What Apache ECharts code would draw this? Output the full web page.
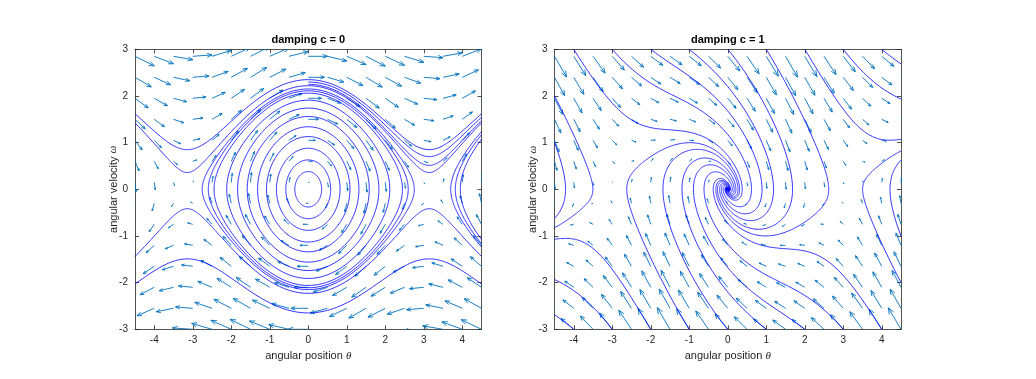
<!DOCTYPE html>
<html><head><meta charset="utf-8">
<script src="https://cdn.jsdelivr.net/npm/echarts@6/dist/echarts.min.js"></script>
<style>html,body{margin:0;padding:0;background:#fff}#c{width:1036px;height:379px}</style>
</head><body><div id="c"></div>
<script>
// ---------------- data ----------------
const titles = ['damping c = 0', 'damping c = 1'];
const dampingValues = [0, 1];
const gravityOverLength = 1.2;          // pendulum constant g/L
const xTicks = [-4, -3, -2, -1, 0, 1, 2, 3, 4];
const yTicks = [-3, -2, -1, 0, 1, 2, 3];
const thetaGrid = [-4.5, -4, -3.5, -3, -2.5, -2, -1.5, -1, -0.5, 0, 0.5, 1, 1.5, 2, 2.5, 3, 3.5, 4, 4.5];
const omegaGrid = [-3, -2.55, -2.1, -1.65, -1.2, -0.75, -0.3, 0.15, 0.6, 1.05, 1.5, 1.95, 2.4, 2.85];

// c = 0 : closed orbits (omega where they cross theta = 0)
const ringOmega0 = [0.38, 0.63, 0.88, 1.13, 1.34, 1.56, 1.74, 1.91, 2.06, 2.11, 2.15];
// c = 0 : rotating orbits through theta = 0, drawn to both edges
const openOmega0 = [2.22, 2.35, -2.23, -2.65];
// c = 0 : rotating orbits leaving theta = 0 to the right only
const rightOmega0 = [2.25, 2.3];
// c = 0 : orbits around theta = 2*pi seen at the right edge (theta where omega = 0)
const edgeLoopTheta = [3.7, 3.82, 3.95];

// c = 1 : start points of the streamlines
const seedTheta1 = [-4, -3, -2, -1, 0, 1, 2, 3, 4, -4, -3, -2, -1, 0, 1, 2, 3, 4, -4.5, -4.5, 4.5, 4.5];
const seedOmega1 = [3, 3, 3, 3, 3, 3, 3, 3, 3, -3, -3, -3, -3, -3, -3, -3, -3, -3, 1, 2, -1, -2];

// ---------------- integration helpers ----------------
const XMIN = -4.5, XMAX = 4.5, YMIN = -3, YMAX = 3;
function deriv(c, s) { return [s[1], -gravityOverLength * Math.sin(s[0]) - c * s[1]]; }
function rk4(c, s, h) {
  const k1 = deriv(c, s);
  const k2 = deriv(c, [s[0] + h / 2 * k1[0], s[1] + h / 2 * k1[1]]);
  const k3 = deriv(c, [s[0] + h / 2 * k2[0], s[1] + h / 2 * k2[1]]);
  const k4 = deriv(c, [s[0] + h * k3[0], s[1] + h * k3[1]]);
  return [s[0] + h / 6 * (k1[0] + 2 * k2[0] + 2 * k3[0] + k4[0]),
          s[1] + h / 6 * (k1[1] + 2 * k2[1] + 2 * k3[1] + k4[1])];
}
function inside(p) { return p[0] >= XMIN && p[0] <= XMAX && p[1] >= YMIN && p[1] <= YMAX; }
function edgePoint(a, b) {
  let t = 1;
  if (b[0] > XMAX) t = Math.min(t, (XMAX - a[0]) / (b[0] - a[0]));
  if (b[0] < XMIN) t = Math.min(t, (XMIN - a[0]) / (b[0] - a[0]));
  if (b[1] > YMAX) t = Math.min(t, (YMAX - a[1]) / (b[1] - a[1]));
  if (b[1] < YMIN) t = Math.min(t, (YMIN - a[1]) / (b[1] - a[1]));
  return [a[0] + t * (b[0] - a[0]), a[1] + t * (b[1] - a[1])];
}
function trace(c, start, dir, closed) {
  const h = 0.01 * dir;
  let s = start.slice();
  const pts = [s];
  for (let i = 0; i < 40000; i++) {
    const n = rk4(c, s, h);
    if (!inside(n)) { pts.push(edgePoint(s, n)); break; }
    if (closed && i > 20 && s[0] < 0 && n[0] >= 0 && n[1] > 0) { pts.push(start); break; }
    if (c > 0 && Math.hypot(n[0], n[1]) < 0.004) { pts.push(n); break; }
    if (i % 3 === 0) pts.push(n);
    s = n;
  }
  return pts;
}
function both(c, start) {
  const f = trace(c, start, 1, false), b = trace(c, start, -1, false);
  return b.reverse().concat(f.slice(1));
}

// ---------------- streamlines ----------------
const lines0 = [];
ringOmega0.forEach(w => lines0.push(trace(0, [0, w], 1, true)));
openOmega0.forEach(w => lines0.push(both(0, [0, w])));
rightOmega0.forEach(w => lines0.push(trace(0, [0, w], 1, false)));
edgeLoopTheta.forEach(t => lines0.push(both(0, [t, 0])));

const lines1 = [];
seedTheta1.forEach((t, i) => lines1.push(trace(1, [t, seedOmega1[i]], 1, false)));

// ---------------- quiver (MATLAB style autoscale) ----------------
function quiverData(c) {
  const raw = [];
  omegaGrid.forEach(w => thetaGrid.forEach(t => { const d = deriv(c, [t, w]); raw.push([t, w, d[0], d[1]]); }));
  const delx = (XMAX - XMIN) / thetaGrid.length;
  const dely = (omegaGrid[omegaGrid.length - 1] - omegaGrid[0]) / omegaGrid.length;
  const del = delx * delx + dely * dely;
  let maxlen = 0;
  raw.forEach(r => { maxlen = Math.max(maxlen, Math.sqrt((r[2] * r[2] + r[3] * r[3]) / del)); });
  const sc = 0.9 / maxlen;
  return raw.map(r => [r[0], r[1], r[2] * sc, r[3] * sc]);
}
const QCOLOR = '#0072BD';
function arrowItem(params, api) {
  const x = api.value(0), y = api.value(1), u = api.value(2), v = api.value(3);
  const p0 = api.coord([x, y]), p1 = api.coord([x + u, y + v]);
  const dx = p1[0] - p0[0], dy = p1[1] - p0[1];
  const L = Math.hypot(dx, dy);
  const st = { stroke: QCOLOR, lineWidth: 0.9, fill: null };
  if (L < 0.3) return { type: 'group', children: [] };
  const ux = dx / L, uy = dy / L;
  const hl = 0.25 * L, hw = 0.1 * L;
  const bx = p1[0] - ux * hl, by = p1[1] - uy * hl;
  return {
    type: 'group', children: [
      { type: 'line', shape: { x1: p0[0], y1: p0[1], x2: p1[0], y2: p1[1] }, style: st },
      { type: 'polyline', shape: { points: [[bx - uy * hw, by + ux * hw], p1, [bx + uy * hw, by - ux * hw]] }, style: st }
    ]
  };
}

// ---------------- chart ----------------
const FONT = '"Liberation Sans", Arial, Helvetica, sans-serif';
const AX = '#262626';
const grids = [
  { left: 135, top: 49.3, width: 346.5, height: 280 },
  { left: 554.5, top: 49.3, width: 346.5, height: 280 }
];
const xAxes = [], yAxes = [], series = [], titleArr = [];
grids.forEach((g, gi) => {
  const tick = { inside: true, length: 4, lineStyle: { color: AX, width: 0.8 } };
  const line = { onZero: false, lineStyle: { color: AX, width: 0.8 } };
  xAxes.push({
    gridIndex: gi, type: 'value', min: XMIN, max: XMAX, position: 'bottom',
    axisLine: line, axisTick: Object.assign({ customValues: xTicks }, tick),
    axisLabel: { customValues: xTicks, color: AX, fontSize: 10, fontFamily: FONT, margin: 6 },
    splitLine: { show: false },
    name: 'angular position {i|θ}', nameLocation: 'middle', nameGap: 21, nameMoveOverlap: false,
    nameTextStyle: { color: AX, fontSize: 11, fontFamily: FONT,
      rich: { i: { fontStyle: 'italic', fontFamily: '"Liberation Serif", serif', fontSize: 11, color: AX } } }
  });
  xAxes.push({
    gridIndex: gi, type: 'value', min: XMIN, max: XMAX, position: 'top',
    axisLine: line, axisTick: Object.assign({ customValues: xTicks }, tick),
    axisLabel: { show: false, customValues: xTicks }, splitLine: { show: false }
  });
  yAxes.push({
    gridIndex: gi, type: 'value', min: YMIN, max: YMAX, interval: 1, position: 'left',
    axisLine: line, axisTick: tick,
    axisLabel: { color: AX, fontSize: 10, fontFamily: FONT, margin: 7 },
    splitLine: { show: false },
    name: 'angular velocity {i|ω}', nameLocation: 'middle', nameGap: 16, nameMoveOverlap: false,
    nameTextStyle: { color: AX, fontSize: 11, fontFamily: FONT,
      rich: { i: { fontStyle: 'italic', fontFamily: '"Liberation Serif", serif', fontSize: 11, color: AX } } }
  });
  yAxes.push({
    gridIndex: gi, type: 'value', min: YMIN, max: YMAX, interval: 1, position: 'right',
    axisLine: line, axisTick: tick, axisLabel: { show: false }, splitLine: { show: false }
  });
  titleArr.push({
    text: titles[gi], left: g.left + g.width / 2, top: 34, textAlign: 'center', padding: 0,
    textStyle: { fontSize: 11, fontWeight: 'bold', color: '#000', fontFamily: FONT }
  });
  const c = dampingValues[gi];
  series.push({
    type: 'custom', xAxisIndex: gi * 2, yAxisIndex: gi * 2, clip: true,
    renderItem: arrowItem, data: quiverData(c), silent: true, animation: false
  });
  const L = gi === 0 ? lines0 : lines1;
  series.push({
    type: 'lines', coordinateSystem: 'cartesian2d', xAxisIndex: gi * 2, yAxisIndex: gi * 2,
    polyline: true, silent: true, animation: false, clip: true,
    lineStyle: { color: '#0000FF', width: 0.8, opacity: 1 },
    data: L.map(p => ({ coords: p }))
  });
});

const chart = echarts.init(document.getElementById('c'), null, { renderer: 'canvas' });
chart.setOption({
  animation: false, backgroundColor: '#fff',
  title: titleArr, grid: grids, xAxis: xAxes, yAxis: yAxes, series: series
});
</script></body></html>
